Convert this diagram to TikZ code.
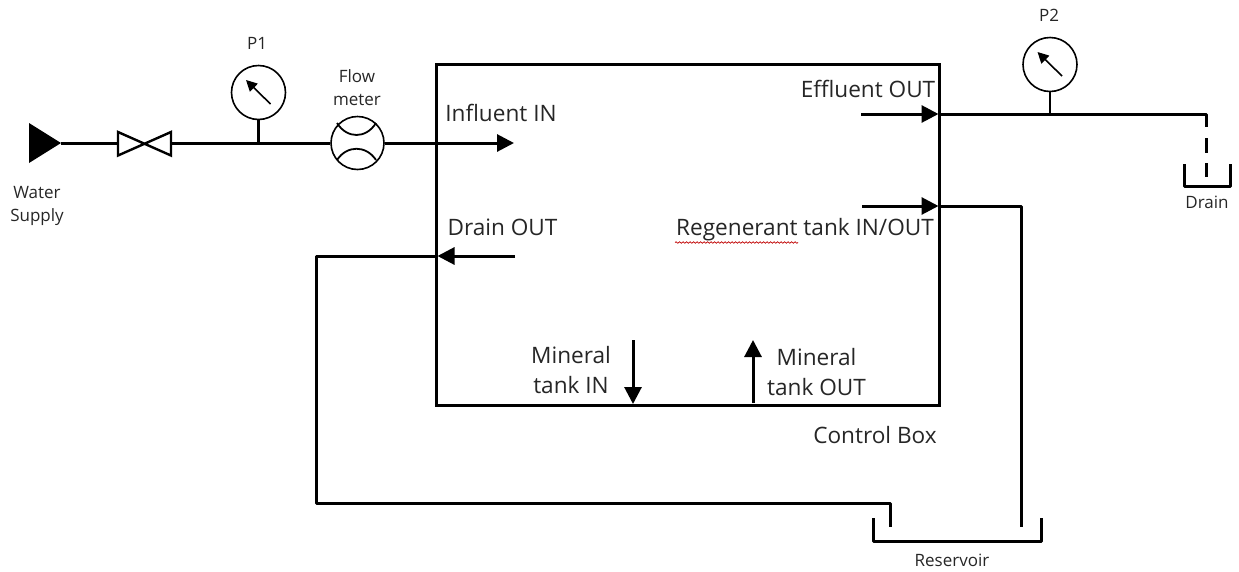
\documentclass[tikz,border=0pt]{standalone}
\usepackage{fontspec}
\setmainfont{Open Sans}
\usetikzlibrary{arrows.meta,decorations.pathmorphing}
\definecolor{ink}{HTML}{000000}
\definecolor{txt}{HTML}{262626}
\tikzset{
  x=1pt,y=-1pt,
  pipe/.style={draw=ink,line width=3pt},
  thinp/.style={draw=ink,line width=2.2pt},
  flow/.style={pipe,-{Triangle[length=17pt,width=17pt]}},
  big/.style={font=\fontsize{22.6}{30}\selectfont,text=txt,inner sep=0pt,align=center},
  small/.style={font=\fontsize{17}{22.5}\selectfont,text=txt,inner sep=0pt,align=center},
  dial/.style={circle,draw=ink,line width=1.6pt,minimum size=54pt,inner sep=0pt},
  needle/.style={draw=ink,line width=1.6pt,-{Triangle[length=11pt,width=11pt]}}
}
\begin{document}
\begin{tikzpicture}
\useasboundingbox (0,0) rectangle (1239,571);
% control box
\node[draw=ink,line width=3pt,minimum width=503.5pt,minimum height=341pt,inner sep=0pt] (box) at (688,234.5) {};
% coordinates
\coordinate (src) at (61,143);
\coordinate (vl) at (118,143);
\coordinate (vr) at (171,143);
\coordinate (t1) at (258.5,143);
\coordinate (inEnd) at (514,143);
\coordinate (e0) at (861,114);
\coordinate (eTip) at (938.5,114);
\coordinate (t2) at (1050,114);
\coordinate (eC) at (1206,114);
\coordinate (dTop) at (1206,127);
\coordinate (dStart) at (1206,138);
\coordinate (dEnd) at (1206,177);
\coordinate (r0) at (862,206);
\coordinate (rTip) at (938.5,206);
\coordinate (rC) at (1021,206);
\coordinate (rEnd) at (1021,527);
\coordinate (do0) at (515,256);
\coordinate (doTip) at (437.5,256);
\coordinate (doC) at (316,256);
\coordinate (doD) at (316,503);
\coordinate (doE) at (890,503);
\coordinate (doF) at (890,527);
\coordinate (mi0) at (633,340);
\coordinate (mi1) at (633,404);
\coordinate (mo0) at (753,403);
\coordinate (mo1) at (753,340);
% gauges and meter
\node[dial] (g1) at (258.5,92.5) {};
\node[dial] (g2) at (1050,64.5) {};
\node[circle,draw=ink,line width=1.6pt,minimum size=53pt,inner sep=0pt] (fm) at (357.5,143) {};
% source
\fill[ink] (29,123) -- (61,143) -- (29,163) -- cycle;
\draw[pipe] (src) -- (vl);
% valve
\draw[draw=ink,line width=2.4pt,line join=miter] (118,132) -- (171,155.5) -- (171,132) -- (118,155.5) -- cycle;
\draw[pipe] (vr) -- (fm.west);
\draw[thinp] (g1.south) -- (t1);
\draw[needle] (270.5,104) -- (246,80);
\draw[needle] (1062,76) -- (1037.5,52);
% flow meter arcs
\draw[draw=ink,line width=1.8pt] (337,123) .. controls (347,139) and (366,139) .. (376,123);
\draw[draw=ink,line width=1.8pt] (337,160) .. controls (347,145) and (366,145) .. (376,160);
% flows
\draw[flow] (fm.east) -- (inEnd);
\draw[flow] (e0) -- (eTip);
\draw[pipe,line join=round] (eTip) -- (eC) -- (dTop);
\draw[thinp] (g2.south) -- (t2);
\draw[pipe,dash pattern=on 15pt off 10pt] (dStart) -- (dEnd);
\draw[flow] (r0) -- (rTip);
\draw[pipe,line join=round] (rTip) -- (rC) -- (rEnd);
\draw[flow] (do0) -- (doTip);
\draw[pipe,line join=round] (doTip) -- (doC) -- (doD) -- (doE) -- (doF);
\draw[flow] (mi0) -- (mi1);
\draw[flow] (mo0) -- (mo1);
% basins
\draw[pipe,line join=round] (1184,164) -- (1184,186) -- (1230,186) -- (1230,164);
\draw[pipe,line join=round] (873,518) -- (873,541) -- (1041,541) -- (1041,518);
% labels
\node[small] (lw) at (37,206) {Water\\Supply};
\node[small] (lp1) at (257,43) {P1};
\node[small] (lf) at (357,87.5) {Flow\\meter};
\node[small] (lp2) at (1049,15) {P2};
\node[small] (ld) at (1207,202) {Drain};
\node[small] (lr) at (952,560) {Reservoir};
\node[big] (li) at (501,113) {Influent IN};
\node[big] (le) at (868,89) {Effluent OUT};
\node[big] (lrg) at (805,230) {Regenerant tank IN/OUT};
\node[big] (ldo) at (502.5,227) {Drain OUT};
\node[big] (lm1) at (571,370) {Mineral\\tank IN};
\node[big] (lm2) at (816.5,372) {Mineral\\tank OUT};
\node[big] (lc) at (875,435) {Control Box};
\draw[red!75!black,line width=.7pt,decorate,decoration={snake,amplitude=.8pt,segment length=3.5pt}] (675,242.5) -- (798,242.5);
\end{tikzpicture}
\end{document}
